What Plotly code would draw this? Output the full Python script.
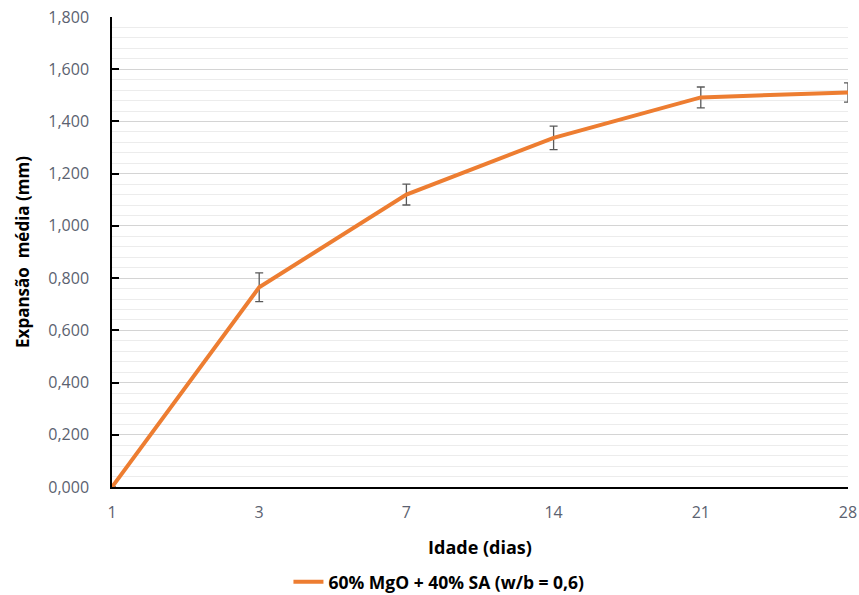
import plotly.graph_objects as go

# Expansion data by age
idade = ["1", "3", "7", "14", "21", "28"]
expansao = [0.000, 0.765, 1.120, 1.337, 1.492, 1.511]
erro = [0.000, 0.055, 0.040, 0.045, 0.040, 0.037]
serie_nome = "60% MgO + 40% SA (w/b = 0,6)"
y_ticks = [0, 0.2, 0.4, 0.6, 0.8, 1.0, 1.2, 1.4, 1.6, 1.8]
y_labels = ["0,000", "0,200", "0,400", "0,600", "0,800", "1,000", "1,200", "1,400", "1,600", "1,800"]

FONT = "'Open Sans', Lato, sans-serif"
TICK_COLOR = "#5b6270"

fig = go.Figure()
fig.add_trace(go.Scatter(
    x=idade, y=expansao, mode="lines", name=serie_nome,
    line=dict(color="#ED7D31", width=4),
    error_y=dict(type="data", array=erro, visible=True,
                 color="#595959", thickness=1.3, width=4),
))

fig.update_layout(
    width=859, height=595,
    margin=dict(l=112, r=11, t=17, b=108, autoexpand=False),
    paper_bgcolor="white", plot_bgcolor="white",
    font=dict(family=FONT, size=16, color=TICK_COLOR),
    showlegend=True,
    legend=dict(orientation="h", xref="container", yref="container",
                x=0.511, xanchor="center", y=0.022, yanchor="middle",
                font=dict(family=FONT, size=17.5, color="#000000", weight="bold"),
                bgcolor="rgba(0,0,0,0)"),
    xaxis=dict(
        type="category", range=[0, 5], automargin=False,
        showgrid=False, zeroline=False,
        showline=True, linecolor="#000000", linewidth=1.5,
        ticks="", ticklabelstandoff=10,
        tickfont=dict(family=FONT, size=16, color=TICK_COLOR),
        title=dict(text="Idade (dias)", font=dict(family=FONT, size=18, color="#000000", weight="bold"),
                   standoff=19),
    ),
    yaxis=dict(
        range=[0, 1.8], tickvals=y_ticks, ticktext=y_labels, automargin=False,
        showgrid=True, gridcolor="#d4d4d4", gridwidth=1,
        zeroline=False,
        showline=True, linecolor="#000000", linewidth=1.5,
        ticks="inside", ticklen=7, tickcolor="#000000", tickwidth=1.5,
        ticklabelstandoff=18,
        tickfont=dict(family=FONT, size=16, color=TICK_COLOR),
        minor=dict(dtick=0.04, tick0=0, showgrid=True, gridcolor="#ececec", gridwidth=1, ticks=""),
        title=dict(text="Expansão  média (mm)", font=dict(family=FONT, size=17, color="#000000", weight="bold"),
                   standoff=14),
    ),
)

fig.write_html("out.html")
